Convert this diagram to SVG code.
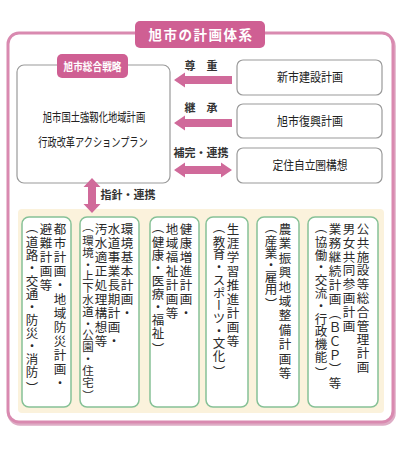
<svg xmlns="http://www.w3.org/2000/svg" width="400" height="450" viewBox="0 0 400 450">
<defs>
<style>
.jp{font-family:"Noto Sans CJK JP","Noto Sans CJK SC",sans-serif;}
.title{font-size:13.5px;font-weight:bold;fill:#fff;letter-spacing:1.5px;}
.lbl{font-size:11.5px;font-weight:bold;fill:#fff;}
.main{font-size:12.5px;fill:#222;}
.rt{font-size:12.5px;fill:#222;}
.al{font-size:11px;font-weight:bold;fill:#333;}
.vt{font-size:12.5px;fill:#2a2a2a;writing-mode:vertical-rl;}
.vs{font-size:11.5px;fill:#2a2a2a;writing-mode:vertical-rl;}
.pink{fill:#cf5f93;}
.arrow{fill:#d06a9a;}
.wbox{fill:#fff;stroke:#9a9a9a;stroke-width:1.2;}
.gbox{fill:#fff;stroke:#86c196;stroke-width:1.5;}
</style>
</defs>
<rect width="400" height="450" fill="#fff"/>
<g id="frame">
<rect x="9" y="35" width="385" height="389" rx="11" fill="none" stroke="#c8759e" stroke-width="3.5" opacity="0.6"/>
<rect x="8" y="33" width="385" height="389" rx="11" fill="#fff" stroke="#d98ab0" stroke-width="3"/>
</g>
<g id="title">
<rect x="135" y="21" width="130" height="27" rx="5" class="pink"/>
<text x="201" y="40" text-anchor="middle" class="jp title">旭市の計画体系</text>
</g>
<g id="panel">
<rect x="18" y="209" width="366" height="204" rx="4" fill="#fbf2dc"/>
</g>
<g id="sougou">
<rect x="17" y="65" width="153" height="118" rx="7" class="wbox"/>
<rect x="57" y="54" width="71" height="24" rx="5" class="pink"/>
<text transform="translate(92.5,70.5) scale(0.84,1)" text-anchor="middle" class="jp lbl">旭市総合戦略</text>
<text transform="translate(94,121.5) scale(0.745,1)" text-anchor="middle" class="jp main">旭市国土強靱化地域計画</text>
<text transform="translate(93,146.5) scale(0.735,1)" text-anchor="middle" class="jp main">行政改革アクションプラン</text>
</g>
<g id="shinshi">
<rect x="237" y="60" width="145" height="35" rx="6" class="wbox"/>
<text transform="translate(310,82) scale(0.88,1)" text-anchor="middle" class="jp rt">新市建設計画</text>
</g>
<g id="fukko">
<rect x="237" y="104" width="145" height="34" rx="6" class="wbox"/>
<text transform="translate(310,125.5) scale(0.88,1)" text-anchor="middle" class="jp rt">旭市復興計画</text>
</g>
<g id="teiju">
<rect x="237" y="148" width="145" height="35" rx="6" class="wbox"/>
<text transform="translate(310,170) scale(0.86,1)" text-anchor="middle" class="jp rt">定住自立圏構想</text>
</g>
<g id="connectors">
<polygon class="arrow" points="174,80 185,72.5 185,76 232,76 232,84 185,84 185,87.5"/>
<polygon class="arrow" points="174,123 185,115.5 185,119 232,119 232,127 185,127 185,130.5"/>
<polygon class="arrow" points="174,170 185,162.5 185,166 221,166 221,162.5 232,170 221,177.5 221,174 185,174 185,177.5"/>
<polygon class="arrow" points="92,178 100.5,187 96,187 96,204 100.5,204 92,213 83.5,204 88,204 88,187 83.5,187"/>
<text x="201" y="70" text-anchor="middle" class="jp al">尊　重</text>
<text x="201" y="112" text-anchor="middle" class="jp al">継　承</text>
<text x="201" y="157" text-anchor="middle" class="jp al">補完・連携</text>
<text x="128" y="199" text-anchor="middle" class="jp al">指針・連携</text>
</g>
<g id="toshi">
<rect x="22" y="217" width="49" height="190" rx="7" class="gbox"/>
<text x="60" y="223 237 251 265 279 293 307 321 335 349 363 377" class="jp vt">都市計画・地域防災計画・</text>
<text x="46" y="223 237 251 265 279" class="jp vt">避難計画等</text>
<text x="32" y="221 236 249 262 275 288 301 314 327 340 353 366 382" class="jp vt">（道路・交通・防災・消防）</text>
</g>
<g id="kankyo">
<rect x="80" y="217" width="59" height="190" rx="7" class="gbox"/>
<text x="127" y="223 237 251 265 279 293 307" class="jp vt">環境基本計画・</text>
<text x="114" y="223 237 251 265 279 293 307 321 335" class="jp vt">水道事業長期計画・</text>
<text x="101" y="223 237 251 265 279 293 307 321 335" class="jp vt">汚水適正処理構想等</text>
<text x="88" y="221 234.8 246.6 258.4 270.2 282 293.8 305.6 317.4 329.2 341 352.8 364.6 376.4 390" class="jp vs">（環境・上下水道・公園・住宅）</text>
</g>
<g id="kenko">
<rect x="150" y="217" width="49" height="190" rx="7" class="gbox"/>
<text x="186" y="223 237 251 265 279 293 307" class="jp vt">健康増進計画・</text>
<text x="172" y="223 237 251 265 279 293 307" class="jp vt">地域福祉計画等</text>
<text x="158" y="221 236 249 262 275 288 301 314 327 343" class="jp vt">（健康・医療・福祉）</text>
</g>
<g id="shogai">
<rect x="206" y="217" width="42" height="190" rx="7" class="gbox"/>
<text x="233" y="223 237 251 265 279 293 307 321 335" class="jp vt">生涯学習推進計画等</text>
<text x="219" y="221 235.7 248.4 261.1 273.8 286.5 299.2 311.9 324.6 337.3 350 366" class="jp vt">（教育・スポーツ・文化）</text>
</g>
<g id="nogyo">
<rect x="257" y="217" width="42" height="190" rx="7" class="gbox"/>
<text x="285" y="223 237.4 251.8 266.2 280.6 295 309.4 323.8 338.2 352.6 367" class="jp vt">農業振興地域整備計画等</text>
<text x="271" y="221 235 247 259 271 283 298" class="jp vt">（産業・雇用）</text>
</g>
<g id="kokyo">
<rect x="308" y="217" width="70" height="190" rx="7" class="gbox"/>
<text x="363" y="223 236.8 250.6 264.4 278.2 292 305.8 319.6 333.4 347.2 361" class="jp vt">公共施設等総合管理計画</text>
<text x="349" y="223 236.8 250.6 264.4 278.2 292 305.8 319.6" class="jp vt">男女共同参画計画</text>
<text x="335" y="223 237 251 265 279 293 307 321 335 349 363 377" class="jp vt">業務継続計画（ＢＣＰ）等</text>
<text x="321" y="221 235.8 248.6 261.4 274.2 287 299.8 312.6 325.4 338.2 351 367" class="jp vt">（協働・交流・行政機能）</text>
</g>
</svg>
